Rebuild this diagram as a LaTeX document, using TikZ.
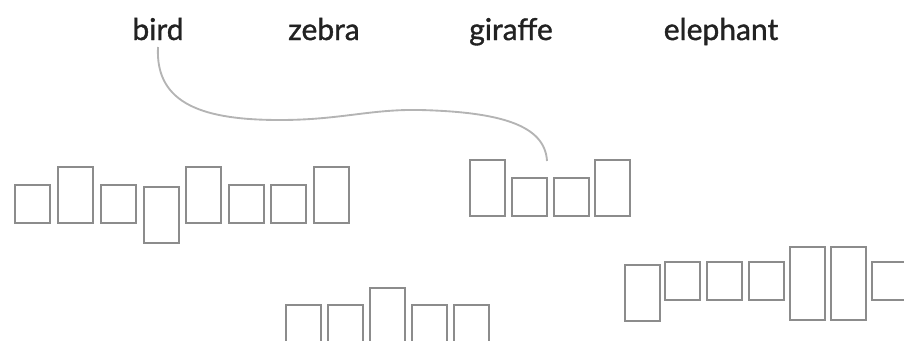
\documentclass[tikz,border=0pt]{standalone}
\usepackage{fontspec}
\setmainfont{Lato}
\newfontfamily\wordfont{Lato}[FakeBold=1.2]
\definecolor{boxgray}{HTML}{8C8C8C}
\definecolor{linegray}{HTML}{B4B4B4}
\definecolor{ink}{HTML}{222222}
\begin{document}
\begin{tikzpicture}[x=0.75pt, y=-0.75pt,
  word/.style={anchor=base, inner sep=0pt, text=ink, font=\wordfont\fontsize{22.5}{26}\selectfont},
  lbox/.style={draw=boxgray, line width=1.7pt, inner sep=0pt, minimum width=26.25pt},
  sbox/.style={lbox, minimum height=28.5pt, anchor=south west},
  tbox/.style={lbox, minimum height=42pt, anchor=south west},
  dbox/.style={lbox, minimum height=42pt, anchor=north west},
  fbox/.style={lbox, minimum height=54.75pt, anchor=north west}]
\useasboundingbox (0,0) rectangle (904,340);
% words
\node[word] (bird) at (158,40) {bird};
\node[word] (zebra) at (324,40) {zebra};
\node[word] (giraffe) at (511,40) {giraffe};
\node[word] (elephant) at (721,40) {elephant};
% elephant
\node[sbox] (e1) at (14,224) {};
\node[tbox] (e2) at (57,224) {};
\node[sbox] (e3) at (100,224) {};
\node[dbox] (e4) at (143,186) {};
\node[tbox] (e5) at (185,224) {};
\node[sbox] (e6) at (228,224) {};
\node[sbox] (e7) at (270,224) {};
\node[tbox] (e8) at (313,224) {};
% bird
\node[tbox] (b1) at (469,217) {};
\node[sbox] (b2) at (511,217) {};
\node[sbox] (b3) at (553,217) {};
\node[tbox] (b4) at (594,217) {};
% zebra
\node[dbox, minimum height=28.5pt] (z1) at (285,304) {};
\node[dbox, minimum height=28.5pt] (z2) at (327,304) {};
\node[dbox] (z3) at (369,287) {};
\node[dbox, minimum height=28.5pt] (z4) at (411,304) {};
\node[dbox, minimum height=28.5pt] (z5) at (453,304) {};
% giraffe
\node[dbox] (g1) at (624,264) {};
\node[sbox] (g2) at (664,301) {};
\node[sbox] (g3) at (706,301) {};
\node[sbox] (g4) at (748,301) {};
\node[fbox] (g5) at (789,246) {};
\node[fbox] (g6) at (830,246) {};
\node[sbox] (g7) at (871,301) {};
% matching line
\coordinate (tail) at (158,47);
\coordinate (head) at (547,161);
\draw[linegray, line width=1.4pt] (tail) .. controls (155,105) and (205,120) .. (280,120)
  .. controls (340,120) and (370,109) .. (420,110)
  .. controls (500,112) and (545,125) .. (head);
\end{tikzpicture}
\end{document}
